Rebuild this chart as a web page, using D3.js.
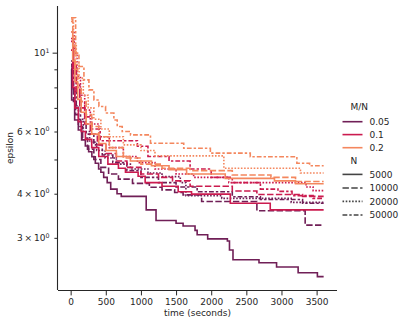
<!DOCTYPE html>
<html>
<head>
<meta charset="utf-8">
<script src="https://cdn.jsdelivr.net/npm/d3@7"></script>
<style>
  body { margin: 0; background: #fff; }
  text { font-family: "DejaVu Sans", sans-serif; fill: #262626; }
</style>
</head>
<body>
<script>
// hue and style levels
var mnLevels = [0.05, 0.1, 0.2];
var nLevels = [5000, 10000, 20000, 50000];
var xTicks = [0, 500, 1000, 1500, 2000, 2500, 3000, 3500];
var yMinor = [3, 4, 5, 6, 7, 8, 9];
var yLabelled = [3, 4, 6, 10];

// [time (s), epsilon] best-so-far
var p5000 = [[5, 9.0], [14, 7.37], [57, 6.47], [109, 6.06], [156, 5.68], [209, 5.46], [256, 5.26], [302, 5.09], [351, 4.88], [398, 4.7], [430, 4.6], [470, 4.45], [520, 4.3], [570, 4.12], [660, 4.0], [720, 3.93], [1075, 3.6], [1215, 3.36], [1500, 3.3], [1600, 3.24], [1770, 3.15], [1800, 3.06], [1950, 2.98], [2230, 2.94], [2260, 2.77], [2310, 2.6], [2680, 2.55], [2930, 2.48], [3237, 2.39], [3511, 2.33], [3600, 2.33]];
var p10000 = [[5, 9.3], [20, 8.2], [40, 7.3], [70, 6.7], [110, 6.2], [170, 5.75], [240, 5.35], [330, 5.0], [430, 4.75], [540, 4.55], [680, 4.4], [880, 4.28], [1120, 4.17], [1300, 4.1], [1480, 4.03], [1600, 3.97], [1864, 3.8], [2650, 3.58], [3337, 3.26], [3600, 3.26]];
var p20000 = [[5, 9.2], [25, 8.0], [60, 7.1], [110, 6.5], [180, 6.0], [270, 5.6], [370, 5.3], [490, 5.05], [650, 4.85], [850, 4.7], [1100, 4.58], [1300, 4.47], [1560, 4.3], [1640, 3.95], [2150, 3.88], [3138, 3.78], [3600, 3.78]];
var p50000 = [[5, 9.5], [40, 7.8], [80, 7.0], [140, 6.4], [220, 5.9], [330, 5.5], [450, 5.15], [600, 4.9], [800, 4.65], [1000, 4.45], [1250, 4.3], [1500, 4.18], [1800, 4.05], [2300, 3.92], [2700, 3.85], [3300, 3.76], [3600, 3.76]];
var c5000 = [[5, 10.2], [30, 8.0], [60, 7.0], [110, 6.4], [150, 6.0], [210, 5.7], [300, 5.4], [400, 5.1], [530, 4.85], [680, 4.72], [780, 4.6], [960, 4.48], [1060, 4.3], [1300, 4.2], [1530, 4.05], [1720, 3.99], [2272, 3.76], [2840, 3.6], [3600, 3.6]];
var c10000 = [[5, 11.0], [40, 9.0], [80, 7.8], [130, 7.0], [200, 6.3], [280, 5.9], [380, 5.5], [500, 5.2], [650, 4.95], [800, 4.75], [1000, 4.55], [1250, 4.45], [1450, 4.35], [1700, 4.2], [2300, 4.07], [2650, 3.98], [3300, 3.93], [3600, 3.93]];
var c20000 = [[5, 11.5], [50, 10.0], [90, 8.6], [140, 7.6], [200, 6.9], [280, 6.3], [400, 5.8], [550, 5.4], [750, 5.1], [950, 4.9], [1200, 4.7], [1500, 4.55], [1750, 4.45], [2250, 4.3], [3350, 4.18], [3450, 4.08], [3600, 4.08]];
var c50000 = [[5, 10.8], [40, 9.2], [80, 8.2], [130, 7.3], [200, 6.6], [300, 6.1], [420, 5.65], [950, 5.45], [1100, 5.1], [1400, 4.95], [1700, 4.7], [2000, 4.45], [2300, 4.3], [2700, 4.12], [2950, 4.06], [3150, 3.95], [3450, 3.88], [3600, 3.88]];
var o5000 = [[5, 11.5], [30, 9.5], [60, 8.3], [100, 7.4], [150, 6.8], [220, 6.3], [300, 5.9], [400, 5.55], [500, 5.3], [650, 5.1], [850, 4.95], [1150, 4.8], [1400, 4.68], [1650, 4.55], [2200, 4.42], [2900, 4.35], [3200, 4.27], [3600, 4.27]];
var o10000 = [[5, 12.5], [30, 10.5], [60, 9.0], [100, 8.0], [150, 7.3], [220, 6.7], [300, 6.2], [400, 5.8], [550, 5.4], [750, 5.05], [1000, 4.85], [1300, 4.72], [1700, 4.65], [2300, 4.52], [2850, 4.45], [3200, 4.33], [3600, 4.33]];
var o20000 = [[5, 12.3], [40, 10.5], [80, 9.3], [120, 8.5], [180, 7.6], [250, 7.0], [330, 6.5], [430, 6.1], [550, 5.8], [750, 5.5], [1000, 5.3], [1200, 5.12], [2180, 4.72], [3270, 4.58], [3600, 4.58]];
var o50000 = [[5, 12.6], [71, 10.0], [118, 9.17], [189, 8.4], [260, 7.87], [331, 7.37], [402, 7.06], [497, 6.77], [615, 6.47], [663, 6.2], [734, 6.0], [852, 5.87], [1136, 5.56], [1609, 5.38], [1988, 5.21], [2556, 5.09], [3219, 4.88], [3400, 4.8], [3600, 4.8]];

var colors = ["#701f57", "#cb1b4f", "#f4875e"];
var lw = 1.6;
var dashes = ["", [4 * lw, 1.5 * lw], [1 * lw, 1 * lw], [3 * lw, 1.25 * lw, 1.5 * lw, 1.25 * lw]];

var series = [
  [p5000, p10000, p20000, p50000],
  [c5000, c10000, c20000, c50000],
  [o5000, o10000, o20000, o50000]
];

var width = 407, height = 325;
var svg = d3.select("body").append("svg")
  .attr("width", width)
  .attr("height", height);

var x = d3.scaleLinear().domain([-180, 3790]).range([58, 337]);
var y = d3.scaleLog().domain([2.135, 13.6]).range([290, 6]);

// lines
var line = d3.line()
  .x(d => x(d[0]))
  .y(d => y(d[1]))
  .curve(d3.curveStepAfter);

series.forEach((group, hi) => {
  group.forEach((pts, si) => {
    svg.append("path")
      .attr("d", line(pts))
      .attr("fill", "none")
      .attr("stroke", colors[hi])
      .attr("stroke-width", lw)
      .attr("stroke-dasharray", dashes[si] === "" ? null : dashes[si].join(","));
  });
});

// axes
var xAxis = d3.axisBottom(x).tickValues(xTicks).tickSize(5.4).tickPadding(3.2).tickFormat(d3.format("d"));
var gx = svg.append("g").attr("transform", "translate(0,290)").call(xAxis);
gx.select(".domain").attr("d", "M58,0.5H337");

var yAxis = d3.axisLeft(y).tickValues(yMinor).tickSize(3.6).tickFormat("");
var gy = svg.append("g").attr("transform", "translate(58,0)").call(yAxis);
gy.select(".domain").attr("d", "M-0.5,6V290");
gy.append("g").attr("class", "tick").append("line")
  .attr("x1", 0).attr("x2", -5.4)
  .attr("y1", y(10)).attr("y2", y(10));

[gx, gy].forEach(g => {
  g.selectAll(".domain").attr("stroke", "#262626").attr("stroke-width", 1.1);
  g.selectAll(".tick line").attr("stroke", "#262626").attr("stroke-width", 1);
  g.selectAll(".tick text").attr("font-size", 9).attr("font-family", "DejaVu Sans").attr("fill", "#262626");
});

// y tick labels in mathtext style
yLabelled.forEach(v => {
  var t = svg.append("text")
    .attr("x", 49.4)
    .attr("y", y(v) + 3.3)
    .attr("text-anchor", "end")
    .attr("font-size", 9);
  var base = v === 10 ? "10" : v + "\u2009\u00d7\u200910";
  var sup = v === 10 ? "1" : "0";
  t.append("tspan").text(base);
  t.append("tspan").attr("font-size", 6.3).attr("dy", -3.6).text(sup);
});

// axis labels
svg.append("text")
  .attr("x", 197.5).attr("y", 316)
  .attr("text-anchor", "middle")
  .attr("font-size", 9)
  .text("time (seconds)");

svg.append("text")
  .attr("transform", "translate(13,148) rotate(-90)")
  .attr("text-anchor", "middle")
  .attr("font-size", 9)
  .text("epsilon");

// legend
var leg = svg.append("g");
var rowY = [107, 121.7, 134.6, 147.7, 161, 174.4, 188, 201.4, 215];
var rows = [
  { label: "M/N", title: true },
  { label: "0.05", color: colors[0], dash: "" },
  { label: "0.1", color: colors[1], dash: "" },
  { label: "0.2", color: colors[2], dash: "" },
  { label: "N", title: true },
  { label: "5000", color: "#444", dash: dashes[0] },
  { label: "10000", color: "#444", dash: dashes[1] },
  { label: "20000", color: "#444", dash: dashes[2] },
  { label: "50000", color: "#444", dash: dashes[3] }
];
rows.forEach((r, i) => {
  if (r.title) {
    leg.append("text").attr("x", 350.5).attr("y", rowY[i] + 3.3)
      .attr("font-size", 9).text(r.label);
    return;
  }
  leg.append("line")
    .attr("x1", 342.5).attr("x2", 362.5)
    .attr("y1", rowY[i]).attr("y2", rowY[i])
    .attr("stroke", r.color)
    .attr("stroke-width", lw)
    .attr("stroke-dasharray", r.dash === "" ? null : r.dash.join(","));
  leg.append("text").attr("x", 369.5).attr("y", rowY[i] + 3.3)
    .attr("font-size", 9).text(r.label);
});
</script>
</body>
</html>
